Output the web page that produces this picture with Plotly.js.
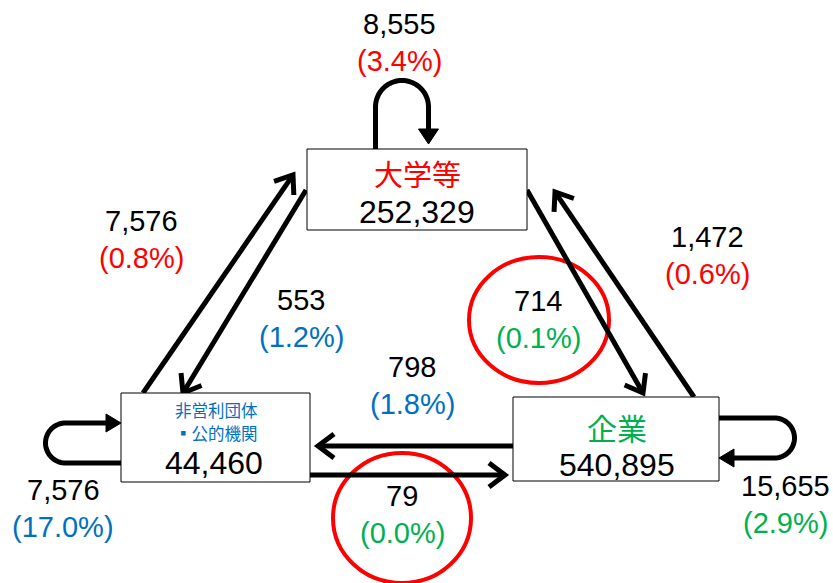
<!DOCTYPE html>
<html>
<head>
<meta charset="utf-8">
<script src="https://cdn.plot.ly/plotly-3.0.1.min.js"></script>
<style>html,body{margin:0;padding:0;background:#fff;}#chart{width:833px;height:583px;}</style>
</head>
<body>
<div id="chart"></div>
<script>
// ---- data ----
const nodeKeys = ['univ', 'np', 'firm'];
const nodeLabelLines = [['大学等'], ['非営利団体', '▪公的機関'], ['企業']];
const nodeTotals = [252329, 44460, 540895];
const nodeColors = ['#FF0000', '#0070C0', '#00B050'];

const flowFrom   = ['univ', 'np',   'univ', 'univ', 'firm', 'firm', 'np',   'np', 'firm'];
const flowTo     = ['univ', 'univ', 'np',   'firm', 'univ', 'np',   'firm', 'np', 'firm'];
const flowValues = [8555,   7576,   553,    714,    1472,   798,    79,     7576, 15655];
const flowShares = [3.4,    0.8,    1.2,    0.1,    0.6,    1.8,    0.0,    17.0, 2.9];

// ---- layout geometry (pixel-like coordinate system) ----
const boxes = {
  univ: {x0: 307, x1: 527, y0: 149, y1: 230},
  np:   {x0: 121, x1: 310, y0: 393, y1: 482},
  firm: {x0: 513, x1: 719, y0: 397, y1: 481}
};
const boxText = {
  univ: {label: [[417, 173]], labelSize: 29, total: [417, 212]},
  np:   {label: [[216, 410], [216, 433]], labelSize: 16.5, total: [214, 463]},
  firm: {label: [[617, 427]], labelSize: 30, total: [617, 465]}
};
// straight arrows: [startX, startY, tipX, tipY], keyed by flow index
const arrowGeom = {
  1: [143, 393, 293, 175],
  2: [306, 190, 183, 393],
  3: [527, 190, 643, 393],
  4: [694, 397, 555, 192],
  5: [513, 446, 318, 446],
  6: [310, 475, 505, 475]
};
// label positions for each flow (number line center)
const labelPos = [[399, 24], [141, 221], [301, 300], [538, 301], [707, 237], [412, 367], [402, 496], [63, 490], [785, 486]];
const ellipses = {3: [469, 609, 257, 383], 6: [333, 471, 453, 583]};

// ---- build ----
const shapes = [];
const annotations = [];
const LW = 5;
const FONT = 'Liberation Sans, Arial, Noto Sans CJK JP, sans-serif';

function fmt(v) { return v.toLocaleString('en-US'); }

Object.keys(ellipses).forEach(k => {
  const e = ellipses[k];
  shapes.push({type: 'circle', xref: 'x', yref: 'y', x0: e[0], x1: e[1], y0: e[2], y1: e[3],
    line: {color: '#FF0000', width: 4}, layer: 'above'});
});

function chevron(tx, ty, dx, dy, L, W) {
  const nx = -dy, ny = dx;
  const ax = tx - L * dx + W * nx, ay = ty - L * dy + W * ny;
  const bx = tx - L * dx - W * nx, by = ty - L * dy - W * ny;
  return `M${ax},${ay} L${tx},${ty} L${bx},${by}`;
}
function triangle(tx, ty, dx, dy, L, W) {
  const nx = -dy, ny = dx;
  const ax = tx - L * dx + W * nx, ay = ty - L * dy + W * ny;
  const bx = tx - L * dx - W * nx, by = ty - L * dy - W * ny;
  return `M${ax},${ay} L${tx},${ty} L${bx},${by} Z`;
}

Object.keys(arrowGeom).forEach(k => {
  const [sx, sy, tx, ty] = arrowGeom[k];
  const len = Math.hypot(tx - sx, ty - sy);
  const dx = (tx - sx) / len, dy = (ty - sy) / len;
  shapes.push({type: 'path', xref: 'x', yref: 'y',
    path: `M${sx},${sy} L${tx - 2 * dx},${ty - 2 * dy}`,
    line: {color: '#000', width: LW}, layer: 'above'});
  shapes.push({type: 'path', xref: 'x', yref: 'y',
    path: chevron(tx, ty, dx, dy, 16, 12),
    line: {color: '#000', width: LW}, layer: 'above'});
});

function arcPts(cx, cy, r, a0, a1, n) {
  const pts = [];
  for (let i = 0; i <= n; i++) {
    const a = a0 + (a1 - a0) * i / n;
    pts.push([cx + r * Math.cos(a), cy + r * Math.sin(a)]);
  }
  return pts;
}
function polyPath(pts) { return pts.map((p, i) => (i ? 'L' : 'M') + p[0].toFixed(2) + ',' + p[1].toFixed(2)).join(' '); }

(function () {
  const cx = 402, cy = 107, r = 26.5;
  let pts = [[cx - r, 149]];
  pts = pts.concat(arcPts(cx, cy, r, Math.PI, 2 * Math.PI, 40));
  pts.push([cx + r, 130]);
  shapes.push({type: 'path', xref: 'x', yref: 'y', path: polyPath(pts), line: {color: '#000', width: LW}, layer: 'above'});
  shapes.push({type: 'path', xref: 'x', yref: 'y', path: triangle(cx + r, 144, 0, 1, 15, 10), fillcolor: '#000', line: {color: '#000', width: 1}, layer: 'above'});
})();
(function () {
  const cx = 65.5, cy = 443, r = 20;
  let pts = [[121, cy + r], [cx, cy + r]];
  pts = pts.concat(arcPts(cx, cy, r, Math.PI / 2, 3 * Math.PI / 2, 40));
  pts.push([108, cy - r]);
  shapes.push({type: 'path', xref: 'x', yref: 'y', path: polyPath(pts), line: {color: '#000', width: LW}, layer: 'above'});
  shapes.push({type: 'path', xref: 'x', yref: 'y', path: triangle(121, cy - r, 1, 0, 15, 9), fillcolor: '#000', line: {color: '#000', width: 1}, layer: 'above'});
})();
(function () {
  const cx = 774.5, cy = 438, r = 20;
  let pts = [[719, cy - r], [cx, cy - r]];
  pts = pts.concat(arcPts(cx, cy, r, -Math.PI / 2, Math.PI / 2, 40));
  pts.push([732, cy + r]);
  shapes.push({type: 'path', xref: 'x', yref: 'y', path: polyPath(pts), line: {color: '#000', width: LW}, layer: 'above'});
  shapes.push({type: 'path', xref: 'x', yref: 'y', path: triangle(719, cy + r, -1, 0, 15, 9), fillcolor: '#000', line: {color: '#000', width: 1}, layer: 'above'});
})();

nodeKeys.forEach((k, i) => {
  const b = boxes[k];
  shapes.push({type: 'rect', xref: 'x', yref: 'y', x0: b.x0, x1: b.x1, y0: b.y0, y1: b.y1,
    fillcolor: '#FFFFFF', line: {color: '#000', width: 1}, layer: 'above'});
  const t = boxText[k];
  nodeLabelLines[i].forEach((line, j) => {
    annotations.push({xref: 'x', yref: 'y', x: t.label[j][0], y: t.label[j][1], text: line, showarrow: false,
      borderpad: 0, xanchor: 'center', yanchor: 'middle',
      font: {family: 'Noto Sans CJK JP, sans-serif', size: t.labelSize, color: nodeColors[i]}});
  });
  annotations.push({xref: 'x', yref: 'y', x: t.total[0], y: t.total[1], text: fmt(nodeTotals[i]), showarrow: false,
    xanchor: 'center', yanchor: 'middle', font: {family: FONT, size: 32, color: '#000'}});
});

flowValues.forEach((v, i) => {
  const [x, y] = labelPos[i];
  const col = nodeColors[nodeKeys.indexOf(flowTo[i])];
  annotations.push({xref: 'x', yref: 'y', x: x, y: y, text: fmt(v), showarrow: false,
    xanchor: 'center', yanchor: 'middle', font: {family: FONT, size: 29, color: '#000'}});
  annotations.push({xref: 'x', yref: 'y', x: x, y: y + 37, text: '(' + flowShares[i].toFixed(1) + '%)', showarrow: false,
    xanchor: 'center', yanchor: 'middle', font: {family: FONT, size: 29, color: col}});
});

const layout = {
  width: 833, height: 583,
  margin: {l: 0, r: 0, t: 0, b: 0},
  paper_bgcolor: '#FFFFFF', plot_bgcolor: '#FFFFFF',
  showlegend: false,
  xaxis: {range: [0, 833], visible: false, fixedrange: true},
  yaxis: {range: [583, 0], visible: false, fixedrange: true},
  shapes: shapes,
  annotations: annotations
};
Plotly.newPlot('chart', [{x: [], y: [], type: 'scatter', mode: 'markers', hoverinfo: 'skip'}], layout, {staticPlot: true, displayModeBar: false});
</script>
</body>
</html>
